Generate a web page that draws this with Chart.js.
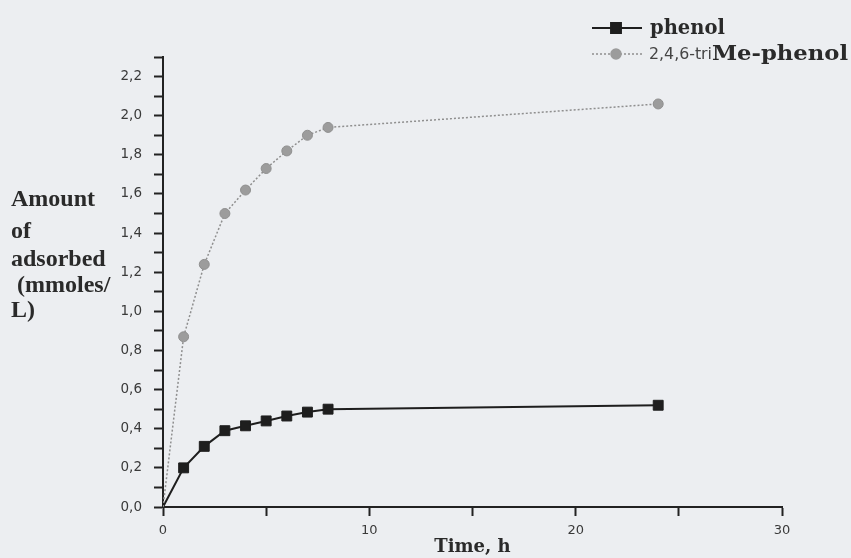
<!DOCTYPE html>
<html>
<head>
<meta charset="utf-8">
<script src="https://cdn.jsdelivr.net/npm/chart.js@4.4.1/dist/chart.umd.min.js"></script>
<style>
html, body { margin: 0; padding: 0; background: #eceef1; }
#wrap { width: 851px; height: 558px; }
</style>
</head>
<body>
<div id="wrap"><canvas id="myChart" width="851" height="558"></canvas></div>
<script>
'use strict';

// time (h) and amount adsorbed (mmoles/L)
const times = [0, 1, 2, 3, 4, 5, 6, 7, 8, 24];
const phenol = [0, 0.20, 0.31, 0.39, 0.415, 0.44, 0.465, 0.485, 0.50, 0.52];
const triMePhenol = [0, 0.87, 1.24, 1.50, 1.62, 1.73, 1.82, 1.90, 1.94, 2.06];
const seriesNames = ['phenol', '2,4,6-triMe-phenol'];
const yTitleLines = ['Amount', 'of', 'adsorbed', ' (mmoles/', 'L)'];

const toPoints = (vals) => vals.map((v, i) => ({ x: times[i], y: v }));
const hideFirst = (r) => (ctx) => ctx.dataIndex === 0 ? 0 : r;

const textColor = '#2a2a2a';

// y title on the left + legend with mixed fonts, drawn by hand
const extras = {
    id: 'extras',
    afterDraw(chart) {
        const ctx = chart.ctx;
        ctx.save();
        ctx.fillStyle = textColor;
        ctx.textBaseline = 'middle';
        ctx.textAlign = 'left';
        ctx.font = 'bold 24px "Liberation Serif"';
        const rows = [200, 232, 260, 286, 311];
        yTitleLines.forEach((t, i) => ctx.fillText(t, 11, rows[i]));

        // legend
        const ds = chart.data.datasets;
        const legendRows = [28, 54];
        ds.forEach((d, i) => {
            const y = legendRows[i];
            ctx.save();
            ctx.strokeStyle = d.borderColor;
            ctx.lineWidth = d.borderWidth;
            ctx.setLineDash(d.borderDash || []);
            ctx.beginPath();
            ctx.moveTo(592, y);
            ctx.lineTo(642, y);
            ctx.stroke();
            ctx.setLineDash([]);
            ctx.fillStyle = d.backgroundColor;
            ctx.strokeStyle = d.backgroundColor;
            Chart.helpers.drawPoint(ctx, {
                pointStyle: d.pointStyle,
                radius: d.legendRadius,
                rotation: 0,
                borderWidth: 1
            }, 616, y);
            ctx.restore();
        });

        ctx.fillStyle = textColor;
        ctx.font = 'bold 19.5px "DejaVu Serif"';
        ctx.fillText(seriesNames[0], 650, legendRows[0] + 1);

        // "2,4,6-tri" in sans, "Me-phenol" in serif
        const name2 = seriesNames[1];
        const cut = name2.indexOf('Me');
        const part1 = name2.slice(0, cut);
        const part2 = name2.slice(cut);
        ctx.font = '16.5px "DejaVu Sans"';
        ctx.fillStyle = '#444';
        const w1 = ctx.measureText(part1).width;
        ctx.save();
        ctx.translate(649, legendRows[1] + 1);
        ctx.scale(63 / w1, 1);
        ctx.fillText(part1, 0, 0);
        ctx.restore();
        ctx.fillStyle = textColor;
        ctx.font = 'bold 20px "DejaVu Serif"';
        const w2 = ctx.measureText(part2).width;
        ctx.save();
        ctx.translate(712, legendRows[1] + 1);
        ctx.scale(Math.min(1.2, 136 / w2), 1);
        ctx.fillText(part2, 0, 0);
        ctx.restore();
        ctx.restore();
    }
};

const data = {
    datasets: [{
        label: seriesNames[0],
        data: toPoints(phenol),
        borderColor: '#1e1e1e',
        backgroundColor: '#1e1e1e',
        borderWidth: 2,
        pointStyle: 'rect',
        pointRadius: hideFirst(7),
        pointBorderWidth: 1,
        legendRadius: 7,
        order: 1
    }, {
        label: seriesNames[1],
        data: toPoints(triMePhenol),
        borderColor: '#8f8f8f',
        backgroundColor: '#9c9c9c',
        borderWidth: 1.5,
        borderDash: [2, 2],
        pointStyle: 'circle',
        pointRadius: hideFirst(5),
        pointBorderWidth: 1,
        legendRadius: 5,
        order: 0
    }]
};

const config = {
    type: 'line',
    data: data,
    options: {
        responsive: false,
        animation: false,
        layout: {
            padding: { left: 103, right: 69, top: 57, bottom: 0 }
        },
        plugins: {
            legend: { display: false },
            tooltip: { enabled: false }
        },
        scales: {
            x: {
                type: 'linear',
                min: 0,
                max: 30,
                border: { color: '#222', width: 2 },
                grid: {
                    drawOnChartArea: false,
                    tickLength: 9,
                    tickWidth: 2,
                    tickColor: '#222'
                },
                ticks: {
                    stepSize: 5,
                    autoSkip: false,
                    maxRotation: 0,
                    padding: 7,
                    color: '#3a3a3a',
                    font: { family: 'DejaVu Sans', size: 13 },
                    callback: (v) => v % 10 === 0 ? String(v) : ''
                },
                title: {
                    display: true,
                    text: 'Time, h',
                    color: textColor,
                    padding: 0,
                    font: { family: 'DejaVu Serif', size: 18, weight: 'bold' }
                },
                afterFit: (s) => { s.height = 51; }
            },
            y: {
                min: 0,
                max: 2.3,
                border: { color: '#222', width: 2 },
                grid: {
                    drawOnChartArea: false,
                    tickLength: 9,
                    tickWidth: 2,
                    tickColor: '#222'
                },
                ticks: {
                    stepSize: 0.1,
                    autoSkip: false,
                    padding: 12,
                    color: '#3a3a3a',
                    font: { family: 'DejaVu Sans', size: 13.5 },
                    callback: (v) => Math.round(v * 10) % 2 === 0 ? v.toFixed(1).replace('.', ',') : ''
                },
                afterFit: (s) => { s.width = 60; }
            }
        }
    },
    plugins: [extras]
};

let myChart = new Chart(document.getElementById('myChart'), config);
</script>
</body>
</html>
